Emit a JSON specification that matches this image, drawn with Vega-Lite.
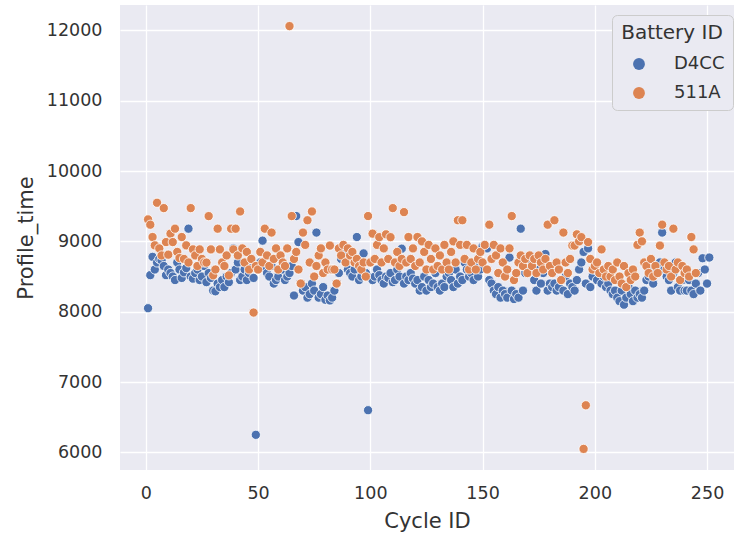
{
"$schema": "https://vega.github.io/schema/vega-lite/v6.json",
"autosize": {"type": "none"},
"width": 614, "height": 465,
"padding": {"left": 120, "top": 5, "right": 0, "bottom": 70},
"background": "white",
"config": {
  "view": {"fill": "#eaeaf2", "stroke": null},
  "font": "DejaVu Sans",
  "axis": {"grid": true, "gridColor": "white", "gridWidth": 1.3, "domain": false, "ticks": false, "labelColor": "#333333", "titleColor": "#333333", "labelFontSize": 17.5, "titleFontSize": 21, "titleFontWeight": "normal", "labelFont": "DejaVu Sans", "titleFont": "DejaVu Sans", "format": "d"}
},
"datasets": {
"pts": [
{"cycle":1,"battery":"D4CC","time":8050},{"cycle":2,"battery":"D4CC","time":8520},{"cycle":3,"battery":"D4CC","time":8780},{"cycle":4,"battery":"D4CC","time":8600},{"cycle":5,"battery":"D4CC","time":8700},{"cycle":6,"battery":"D4CC","time":8750},{"cycle":7,"battery":"D4CC","time":8730},{"cycle":8,"battery":"D4CC","time":8650},{"cycle":9,"battery":"D4CC","time":8520},{"cycle":10,"battery":"D4CC","time":8600},
{"cycle":11,"battery":"D4CC","time":8550},{"cycle":12,"battery":"D4CC","time":8500},{"cycle":13,"battery":"D4CC","time":8450},{"cycle":14,"battery":"D4CC","time":8700},{"cycle":15,"battery":"D4CC","time":8600},{"cycle":16,"battery":"D4CC","time":8480},{"cycle":17,"battery":"D4CC","time":8560},{"cycle":18,"battery":"D4CC","time":8620},{"cycle":19,"battery":"D4CC","time":9180},{"cycle":20,"battery":"D4CC","time":8500},
{"cycle":21,"battery":"D4CC","time":8470},{"cycle":22,"battery":"D4CC","time":8550},{"cycle":23,"battery":"D4CC","time":8600},{"cycle":24,"battery":"D4CC","time":8450},{"cycle":25,"battery":"D4CC","time":8500},{"cycle":26,"battery":"D4CC","time":8650},{"cycle":27,"battery":"D4CC","time":8420},{"cycle":28,"battery":"D4CC","time":8550},{"cycle":29,"battery":"D4CC","time":8480},{"cycle":30,"battery":"D4CC","time":8300},
{"cycle":31,"battery":"D4CC","time":8290},{"cycle":32,"battery":"D4CC","time":8400},{"cycle":33,"battery":"D4CC","time":8350},{"cycle":34,"battery":"D4CC","time":8450},{"cycle":35,"battery":"D4CC","time":8350},{"cycle":36,"battery":"D4CC","time":8500},{"cycle":37,"battery":"D4CC","time":8420},{"cycle":38,"battery":"D4CC","time":8550},{"cycle":39,"battery":"D4CC","time":8900},{"cycle":40,"battery":"D4CC","time":8600},
{"cycle":41,"battery":"D4CC","time":8700},{"cycle":42,"battery":"D4CC","time":8450},{"cycle":43,"battery":"D4CC","time":8500},{"cycle":44,"battery":"D4CC","time":8600},{"cycle":45,"battery":"D4CC","time":8450},{"cycle":46,"battery":"D4CC","time":8550},{"cycle":47,"battery":"D4CC","time":8620},{"cycle":48,"battery":"D4CC","time":8480},{"cycle":49,"battery":"D4CC","time":6250},{"cycle":50,"battery":"D4CC","time":8600},
{"cycle":51,"battery":"D4CC","time":8700},{"cycle":52,"battery":"D4CC","time":9010},{"cycle":53,"battery":"D4CC","time":8620},{"cycle":54,"battery":"D4CC","time":8550},{"cycle":55,"battery":"D4CC","time":8500},{"cycle":56,"battery":"D4CC","time":8650},{"cycle":57,"battery":"D4CC","time":8400},{"cycle":58,"battery":"D4CC","time":8450},{"cycle":59,"battery":"D4CC","time":8500},{"cycle":60,"battery":"D4CC","time":8780},
{"cycle":61,"battery":"D4CC","time":8600},{"cycle":62,"battery":"D4CC","time":8450},{"cycle":63,"battery":"D4CC","time":8500},{"cycle":64,"battery":"D4CC","time":8550},{"cycle":65,"battery":"D4CC","time":8650},{"cycle":66,"battery":"D4CC","time":8230},{"cycle":67,"battery":"D4CC","time":9360},{"cycle":68,"battery":"D4CC","time":8990},{"cycle":69,"battery":"D4CC","time":8400},{"cycle":70,"battery":"D4CC","time":8300},
{"cycle":71,"battery":"D4CC","time":8350},{"cycle":72,"battery":"D4CC","time":8200},{"cycle":73,"battery":"D4CC","time":8250},{"cycle":74,"battery":"D4CC","time":8400},{"cycle":75,"battery":"D4CC","time":8300},{"cycle":76,"battery":"D4CC","time":9125},{"cycle":77,"battery":"D4CC","time":8200},{"cycle":78,"battery":"D4CC","time":8250},{"cycle":79,"battery":"D4CC","time":8350},{"cycle":80,"battery":"D4CC","time":8170},
{"cycle":81,"battery":"D4CC","time":8230},{"cycle":82,"battery":"D4CC","time":8160},{"cycle":83,"battery":"D4CC","time":8200},{"cycle":84,"battery":"D4CC","time":8300},{"cycle":85,"battery":"D4CC","time":8400},{"cycle":86,"battery":"D4CC","time":8550},{"cycle":87,"battery":"D4CC","time":8750},{"cycle":88,"battery":"D4CC","time":8850},{"cycle":89,"battery":"D4CC","time":8700},{"cycle":90,"battery":"D4CC","time":8600},
{"cycle":91,"battery":"D4CC","time":8550},{"cycle":92,"battery":"D4CC","time":8500},{"cycle":93,"battery":"D4CC","time":8600},{"cycle":94,"battery":"D4CC","time":9062},{"cycle":95,"battery":"D4CC","time":8450},{"cycle":96,"battery":"D4CC","time":8500},{"cycle":97,"battery":"D4CC","time":8829},{"cycle":98,"battery":"D4CC","time":8550},{"cycle":99,"battery":"D4CC","time":6600},{"cycle":100,"battery":"D4CC","time":8480},
{"cycle":101,"battery":"D4CC","time":8450},{"cycle":102,"battery":"D4CC","time":8500},{"cycle":103,"battery":"D4CC","time":8600},{"cycle":104,"battery":"D4CC","time":8520},{"cycle":105,"battery":"D4CC","time":8450},{"cycle":106,"battery":"D4CC","time":8400},{"cycle":107,"battery":"D4CC","time":8500},{"cycle":108,"battery":"D4CC","time":8480},{"cycle":109,"battery":"D4CC","time":8550},{"cycle":110,"battery":"D4CC","time":8420},
{"cycle":111,"battery":"D4CC","time":8450},{"cycle":112,"battery":"D4CC","time":8600},{"cycle":113,"battery":"D4CC","time":8500},{"cycle":114,"battery":"D4CC","time":8896},{"cycle":115,"battery":"D4CC","time":8400},{"cycle":116,"battery":"D4CC","time":8500},{"cycle":117,"battery":"D4CC","time":8450},{"cycle":118,"battery":"D4CC","time":8550},{"cycle":119,"battery":"D4CC","time":8470},{"cycle":120,"battery":"D4CC","time":8400},
{"cycle":121,"battery":"D4CC","time":8450},{"cycle":122,"battery":"D4CC","time":8300},{"cycle":123,"battery":"D4CC","time":8350},{"cycle":124,"battery":"D4CC","time":8500},{"cycle":125,"battery":"D4CC","time":8300},{"cycle":126,"battery":"D4CC","time":8450},{"cycle":127,"battery":"D4CC","time":8350},{"cycle":128,"battery":"D4CC","time":8400},{"cycle":129,"battery":"D4CC","time":8550},{"cycle":130,"battery":"D4CC","time":8350},
{"cycle":131,"battery":"D4CC","time":8300},{"cycle":132,"battery":"D4CC","time":8400},{"cycle":133,"battery":"D4CC","time":8350},{"cycle":134,"battery":"D4CC","time":8500},{"cycle":135,"battery":"D4CC","time":8550},{"cycle":136,"battery":"D4CC","time":8450},{"cycle":137,"battery":"D4CC","time":8350},{"cycle":138,"battery":"D4CC","time":8600},{"cycle":139,"battery":"D4CC","time":8400},{"cycle":140,"battery":"D4CC","time":8500},
{"cycle":141,"battery":"D4CC","time":8450},{"cycle":142,"battery":"D4CC","time":8700},{"cycle":143,"battery":"D4CC","time":8600},{"cycle":144,"battery":"D4CC","time":8500},{"cycle":145,"battery":"D4CC","time":8550},{"cycle":146,"battery":"D4CC","time":8450},{"cycle":147,"battery":"D4CC","time":8650},{"cycle":148,"battery":"D4CC","time":8500},{"cycle":149,"battery":"D4CC","time":8600},{"cycle":150,"battery":"D4CC","time":8930},
{"cycle":151,"battery":"D4CC","time":8950},{"cycle":152,"battery":"D4CC","time":8900},{"cycle":153,"battery":"D4CC","time":8450},{"cycle":154,"battery":"D4CC","time":8400},{"cycle":155,"battery":"D4CC","time":8300},{"cycle":156,"battery":"D4CC","time":8250},{"cycle":157,"battery":"D4CC","time":8350},{"cycle":158,"battery":"D4CC","time":8200},{"cycle":159,"battery":"D4CC","time":8300},{"cycle":160,"battery":"D4CC","time":8250},
{"cycle":161,"battery":"D4CC","time":8200},{"cycle":162,"battery":"D4CC","time":8770},{"cycle":163,"battery":"D4CC","time":8300},{"cycle":164,"battery":"D4CC","time":8180},{"cycle":165,"battery":"D4CC","time":8250},{"cycle":166,"battery":"D4CC","time":8200},{"cycle":167,"battery":"D4CC","time":9180},{"cycle":168,"battery":"D4CC","time":8300},{"cycle":169,"battery":"D4CC","time":8550},{"cycle":170,"battery":"D4CC","time":8600},
{"cycle":171,"battery":"D4CC","time":8800},{"cycle":172,"battery":"D4CC","time":8700},{"cycle":173,"battery":"D4CC","time":8450},{"cycle":174,"battery":"D4CC","time":8300},{"cycle":175,"battery":"D4CC","time":8600},{"cycle":176,"battery":"D4CC","time":8400},{"cycle":177,"battery":"D4CC","time":8550},{"cycle":178,"battery":"D4CC","time":8820},{"cycle":179,"battery":"D4CC","time":8300},{"cycle":180,"battery":"D4CC","time":8400},
{"cycle":181,"battery":"D4CC","time":8350},{"cycle":182,"battery":"D4CC","time":8400},{"cycle":183,"battery":"D4CC","time":8300},{"cycle":184,"battery":"D4CC","time":8350},{"cycle":185,"battery":"D4CC","time":8450},{"cycle":186,"battery":"D4CC","time":8300},{"cycle":187,"battery":"D4CC","time":8500},{"cycle":188,"battery":"D4CC","time":8250},{"cycle":189,"battery":"D4CC","time":8400},{"cycle":190,"battery":"D4CC","time":8350},
{"cycle":191,"battery":"D4CC","time":8300},{"cycle":192,"battery":"D4CC","time":8450},{"cycle":193,"battery":"D4CC","time":8600},{"cycle":194,"battery":"D4CC","time":8700},{"cycle":195,"battery":"D4CC","time":8850},{"cycle":196,"battery":"D4CC","time":8400},{"cycle":197,"battery":"D4CC","time":8900},{"cycle":198,"battery":"D4CC","time":8350},{"cycle":199,"battery":"D4CC","time":8500},{"cycle":200,"battery":"D4CC","time":8600},
{"cycle":201,"battery":"D4CC","time":8450},{"cycle":202,"battery":"D4CC","time":8550},{"cycle":203,"battery":"D4CC","time":8400},{"cycle":204,"battery":"D4CC","time":8500},{"cycle":205,"battery":"D4CC","time":8350},{"cycle":206,"battery":"D4CC","time":8400},{"cycle":207,"battery":"D4CC","time":8300},{"cycle":208,"battery":"D4CC","time":8250},{"cycle":209,"battery":"D4CC","time":8300},{"cycle":210,"battery":"D4CC","time":8200},
{"cycle":211,"battery":"D4CC","time":8150},{"cycle":212,"battery":"D4CC","time":8300},{"cycle":213,"battery":"D4CC","time":8100},{"cycle":214,"battery":"D4CC","time":8200},{"cycle":215,"battery":"D4CC","time":8350},{"cycle":216,"battery":"D4CC","time":8250},{"cycle":217,"battery":"D4CC","time":8150},{"cycle":218,"battery":"D4CC","time":8300},{"cycle":219,"battery":"D4CC","time":8200},{"cycle":220,"battery":"D4CC","time":8250},
{"cycle":221,"battery":"D4CC","time":8200},{"cycle":222,"battery":"D4CC","time":8300},{"cycle":223,"battery":"D4CC","time":8450},{"cycle":224,"battery":"D4CC","time":8500},{"cycle":225,"battery":"D4CC","time":8600},{"cycle":226,"battery":"D4CC","time":8400},{"cycle":227,"battery":"D4CC","time":8550},{"cycle":228,"battery":"D4CC","time":8650},{"cycle":229,"battery":"D4CC","time":8700},{"cycle":230,"battery":"D4CC","time":9125},
{"cycle":231,"battery":"D4CC","time":8600},{"cycle":232,"battery":"D4CC","time":8500},{"cycle":233,"battery":"D4CC","time":8450},{"cycle":234,"battery":"D4CC","time":8300},{"cycle":235,"battery":"D4CC","time":8550},{"cycle":236,"battery":"D4CC","time":8700},{"cycle":237,"battery":"D4CC","time":8350},{"cycle":238,"battery":"D4CC","time":8300},{"cycle":239,"battery":"D4CC","time":8450},{"cycle":240,"battery":"D4CC","time":8300},
{"cycle":241,"battery":"D4CC","time":8300},{"cycle":242,"battery":"D4CC","time":8450},{"cycle":243,"battery":"D4CC","time":8300},{"cycle":244,"battery":"D4CC","time":8250},{"cycle":245,"battery":"D4CC","time":8400},{"cycle":246,"battery":"D4CC","time":8550},{"cycle":247,"battery":"D4CC","time":8300},{"cycle":248,"battery":"D4CC","time":8760},{"cycle":249,"battery":"D4CC","time":8600},{"cycle":250,"battery":"D4CC","time":8400},{"cycle":251,"battery":"D4CC","time":8770},
{"cycle":1,"battery":"511A","time":9312},{"cycle":2,"battery":"511A","time":9237},{"cycle":3,"battery":"511A","time":9062},{"cycle":4,"battery":"511A","time":8943},{"cycle":5,"battery":"511A","time":9549},{"cycle":6,"battery":"511A","time":8900},{"cycle":7,"battery":"511A","time":8800},{"cycle":8,"battery":"511A","time":9473},{"cycle":9,"battery":"511A","time":8990},{"cycle":10,"battery":"511A","time":8811},
{"cycle":11,"battery":"511A","time":9110},{"cycle":12,"battery":"511A","time":8990},{"cycle":13,"battery":"511A","time":9180},{"cycle":14,"battery":"511A","time":8850},{"cycle":15,"battery":"511A","time":8763},{"cycle":16,"battery":"511A","time":9062},{"cycle":17,"battery":"511A","time":8750},{"cycle":18,"battery":"511A","time":8943},{"cycle":19,"battery":"511A","time":8700},{"cycle":20,"battery":"511A","time":9473},
{"cycle":21,"battery":"511A","time":8886},{"cycle":22,"battery":"511A","time":8800},{"cycle":23,"battery":"511A","time":8650},{"cycle":24,"battery":"511A","time":8886},{"cycle":25,"battery":"511A","time":8750},{"cycle":26,"battery":"511A","time":8700},{"cycle":27,"battery":"511A","time":8698},{"cycle":28,"battery":"511A","time":9359},{"cycle":29,"battery":"511A","time":8886},{"cycle":30,"battery":"511A","time":8517},
{"cycle":31,"battery":"511A","time":8600},{"cycle":32,"battery":"511A","time":9180},{"cycle":33,"battery":"511A","time":8886},{"cycle":34,"battery":"511A","time":8700},{"cycle":35,"battery":"511A","time":8650},{"cycle":36,"battery":"511A","time":8800},{"cycle":37,"battery":"511A","time":8517},{"cycle":38,"battery":"511A","time":9180},{"cycle":39,"battery":"511A","time":8886},{"cycle":40,"battery":"511A","time":9180},
{"cycle":41,"battery":"511A","time":8800},{"cycle":42,"battery":"511A","time":9425},{"cycle":43,"battery":"511A","time":8900},{"cycle":44,"battery":"511A","time":8700},{"cycle":45,"battery":"511A","time":8850},{"cycle":46,"battery":"511A","time":8600},{"cycle":47,"battery":"511A","time":8750},{"cycle":48,"battery":"511A","time":7988},{"cycle":49,"battery":"511A","time":8650},{"cycle":50,"battery":"511A","time":8600},
{"cycle":51,"battery":"511A","time":8850},{"cycle":52,"battery":"511A","time":8700},{"cycle":53,"battery":"511A","time":9180},{"cycle":54,"battery":"511A","time":8800},{"cycle":55,"battery":"511A","time":8650},{"cycle":56,"battery":"511A","time":9125},{"cycle":57,"battery":"511A","time":8750},{"cycle":58,"battery":"511A","time":8900},{"cycle":59,"battery":"511A","time":8600},{"cycle":60,"battery":"511A","time":8800},
{"cycle":61,"battery":"511A","time":8700},{"cycle":62,"battery":"511A","time":8650},{"cycle":63,"battery":"511A","time":8900},{"cycle":64,"battery":"511A","time":12060},{"cycle":65,"battery":"511A","time":9360},{"cycle":66,"battery":"511A","time":8750},{"cycle":67,"battery":"511A","time":8850},{"cycle":68,"battery":"511A","time":8600},{"cycle":69,"battery":"511A","time":8400},{"cycle":70,"battery":"511A","time":9125},
{"cycle":71,"battery":"511A","time":8950},{"cycle":72,"battery":"511A","time":9300},{"cycle":73,"battery":"511A","time":8700},{"cycle":74,"battery":"511A","time":9425},{"cycle":75,"battery":"511A","time":8500},{"cycle":76,"battery":"511A","time":8650},{"cycle":77,"battery":"511A","time":8800},{"cycle":78,"battery":"511A","time":8900},{"cycle":79,"battery":"511A","time":8550},{"cycle":80,"battery":"511A","time":8700},
{"cycle":81,"battery":"511A","time":8600},{"cycle":82,"battery":"511A","time":8940},{"cycle":83,"battery":"511A","time":8600},{"cycle":84,"battery":"511A","time":8600},{"cycle":85,"battery":"511A","time":8400},{"cycle":86,"battery":"511A","time":8900},{"cycle":87,"battery":"511A","time":8800},{"cycle":88,"battery":"511A","time":8950},{"cycle":89,"battery":"511A","time":8700},{"cycle":90,"battery":"511A","time":8900},
{"cycle":91,"battery":"511A","time":8800},{"cycle":92,"battery":"511A","time":8850},{"cycle":93,"battery":"511A","time":8700},{"cycle":94,"battery":"511A","time":8750},{"cycle":95,"battery":"511A","time":8650},{"cycle":96,"battery":"511A","time":8600},{"cycle":97,"battery":"511A","time":8700},{"cycle":98,"battery":"511A","time":8500},{"cycle":99,"battery":"511A","time":9360},{"cycle":100,"battery":"511A","time":8700},
{"cycle":101,"battery":"511A","time":9110},{"cycle":102,"battery":"511A","time":8750},{"cycle":103,"battery":"511A","time":8950},{"cycle":104,"battery":"511A","time":9060},{"cycle":105,"battery":"511A","time":8700},{"cycle":106,"battery":"511A","time":8900},{"cycle":107,"battery":"511A","time":9100},{"cycle":108,"battery":"511A","time":8750},{"cycle":109,"battery":"511A","time":9060},{"cycle":110,"battery":"511A","time":9473},
{"cycle":111,"battery":"511A","time":8700},{"cycle":112,"battery":"511A","time":8850},{"cycle":113,"battery":"511A","time":8650},{"cycle":114,"battery":"511A","time":8750},{"cycle":115,"battery":"511A","time":9416},{"cycle":116,"battery":"511A","time":8700},{"cycle":117,"battery":"511A","time":9062},{"cycle":118,"battery":"511A","time":8750},{"cycle":119,"battery":"511A","time":8900},{"cycle":120,"battery":"511A","time":8650},
{"cycle":121,"battery":"511A","time":9062},{"cycle":122,"battery":"511A","time":8700},{"cycle":123,"battery":"511A","time":9000},{"cycle":124,"battery":"511A","time":8850},{"cycle":125,"battery":"511A","time":8600},{"cycle":126,"battery":"511A","time":8950},{"cycle":127,"battery":"511A","time":8750},{"cycle":128,"battery":"511A","time":8600},{"cycle":129,"battery":"511A","time":8900},{"cycle":130,"battery":"511A","time":8650},
{"cycle":131,"battery":"511A","time":8800},{"cycle":132,"battery":"511A","time":8600},{"cycle":133,"battery":"511A","time":8950},{"cycle":134,"battery":"511A","time":8700},{"cycle":135,"battery":"511A","time":8600},{"cycle":136,"battery":"511A","time":8850},{"cycle":137,"battery":"511A","time":9000},{"cycle":138,"battery":"511A","time":8700},{"cycle":139,"battery":"511A","time":9300},{"cycle":140,"battery":"511A","time":8950},
{"cycle":141,"battery":"511A","time":9300},{"cycle":142,"battery":"511A","time":8750},{"cycle":143,"battery":"511A","time":8950},{"cycle":144,"battery":"511A","time":8600},{"cycle":145,"battery":"511A","time":8700},{"cycle":146,"battery":"511A","time":8900},{"cycle":147,"battery":"511A","time":8600},{"cycle":148,"battery":"511A","time":8750},{"cycle":149,"battery":"511A","time":8850},{"cycle":150,"battery":"511A","time":8700},
{"cycle":151,"battery":"511A","time":8950},{"cycle":152,"battery":"511A","time":8600},{"cycle":153,"battery":"511A","time":9237},{"cycle":154,"battery":"511A","time":8750},{"cycle":155,"battery":"511A","time":8950},{"cycle":156,"battery":"511A","time":8800},{"cycle":157,"battery":"511A","time":8550},{"cycle":158,"battery":"511A","time":8900},{"cycle":159,"battery":"511A","time":8700},{"cycle":160,"battery":"511A","time":8500},
{"cycle":161,"battery":"511A","time":8600},{"cycle":162,"battery":"511A","time":8900},{"cycle":163,"battery":"511A","time":9360},{"cycle":164,"battery":"511A","time":8450},{"cycle":165,"battery":"511A","time":8550},{"cycle":166,"battery":"511A","time":8700},{"cycle":167,"battery":"511A","time":8800},{"cycle":168,"battery":"511A","time":8650},{"cycle":169,"battery":"511A","time":8750},{"cycle":170,"battery":"511A","time":8550},
{"cycle":171,"battery":"511A","time":8800},{"cycle":172,"battery":"511A","time":8650},{"cycle":173,"battery":"511A","time":8750},{"cycle":174,"battery":"511A","time":8550},{"cycle":175,"battery":"511A","time":8800},{"cycle":176,"battery":"511A","time":8700},{"cycle":177,"battery":"511A","time":8600},{"cycle":178,"battery":"511A","time":8750},{"cycle":179,"battery":"511A","time":9237},{"cycle":180,"battery":"511A","time":8650},
{"cycle":181,"battery":"511A","time":8550},{"cycle":182,"battery":"511A","time":9300},{"cycle":183,"battery":"511A","time":8700},{"cycle":184,"battery":"511A","time":8600},{"cycle":185,"battery":"511A","time":8450},{"cycle":186,"battery":"511A","time":9125},{"cycle":187,"battery":"511A","time":8700},{"cycle":188,"battery":"511A","time":8550},{"cycle":189,"battery":"511A","time":8750},{"cycle":190,"battery":"511A","time":8940},
{"cycle":191,"battery":"511A","time":8940},{"cycle":192,"battery":"511A","time":9100},{"cycle":193,"battery":"511A","time":9000},{"cycle":194,"battery":"511A","time":9060},{"cycle":195,"battery":"511A","time":6050},{"cycle":196,"battery":"511A","time":6670},{"cycle":197,"battery":"511A","time":8990},{"cycle":198,"battery":"511A","time":8750},{"cycle":199,"battery":"511A","time":8600},{"cycle":200,"battery":"511A","time":8650},
{"cycle":201,"battery":"511A","time":8700},{"cycle":202,"battery":"511A","time":8550},{"cycle":203,"battery":"511A","time":8886},{"cycle":204,"battery":"511A","time":8600},{"cycle":205,"battery":"511A","time":8500},{"cycle":206,"battery":"511A","time":8650},{"cycle":207,"battery":"511A","time":8500},{"cycle":208,"battery":"511A","time":8600},{"cycle":209,"battery":"511A","time":8450},{"cycle":210,"battery":"511A","time":8700},
{"cycle":211,"battery":"511A","time":8500},{"cycle":212,"battery":"511A","time":8400},{"cycle":213,"battery":"511A","time":8650},{"cycle":214,"battery":"511A","time":8350},{"cycle":215,"battery":"511A","time":8550},{"cycle":216,"battery":"511A","time":8450},{"cycle":217,"battery":"511A","time":8600},{"cycle":218,"battery":"511A","time":8500},{"cycle":219,"battery":"511A","time":8950},{"cycle":220,"battery":"511A","time":9125},
{"cycle":221,"battery":"511A","time":9000},{"cycle":222,"battery":"511A","time":8700},{"cycle":223,"battery":"511A","time":8650},{"cycle":224,"battery":"511A","time":8550},{"cycle":225,"battery":"511A","time":8750},{"cycle":226,"battery":"511A","time":8500},{"cycle":227,"battery":"511A","time":8650},{"cycle":228,"battery":"511A","time":8550},{"cycle":229,"battery":"511A","time":8940},{"cycle":230,"battery":"511A","time":9237},
{"cycle":231,"battery":"511A","time":8700},{"cycle":232,"battery":"511A","time":8600},{"cycle":233,"battery":"511A","time":8650},{"cycle":234,"battery":"511A","time":8500},{"cycle":235,"battery":"511A","time":9180},{"cycle":236,"battery":"511A","time":8600},{"cycle":237,"battery":"511A","time":8700},{"cycle":238,"battery":"511A","time":8450},{"cycle":239,"battery":"511A","time":8650},{"cycle":240,"battery":"511A","time":8550},
{"cycle":241,"battery":"511A","time":8600},{"cycle":242,"battery":"511A","time":8500},{"cycle":243,"battery":"511A","time":9062},{"cycle":244,"battery":"511A","time":8886},{"cycle":245,"battery":"511A","time":8550}
]
},
"data": {"name": "pts"},
"mark": {"type": "point", "filled": true, "opacity": 1, "size": 85, "stroke": "white", "strokeWidth": 0.8},
"encoding": {
  "x": {"field": "cycle", "type": "quantitative", "title": "Cycle ID", "scale": {"domain": [-11.5, 262], "nice": false, "zero": false}, "axis": {"values": [0, 50, 100, 150, 200, 250], "labelPadding": 14, "titlePadding": 9}},
  "y": {"field": "time", "type": "quantitative", "title": "Profile_time", "scale": {"domain": [5750, 12360], "nice": false, "zero": false}, "axis": {"values": [6000, 7000, 8000, 9000, 10000, 11000, 12000], "labelPadding": 18, "titlePadding": 10}},
  "color": {"field": "battery", "type": "nominal", "title": "Battery ID", "sort": ["D4CC", "511A"], "scale": {"domain": ["D4CC", "511A"], "range": ["#4c72b0", "#dd8452"]},
    "legend": {"orient": "none", "legendX": 492, "legendY": 10, "fillColor": "#eaeaf2", "strokeColor": "#cccccc", "cornerRadius": 5, "padding": 8, "titleFontSize": 20, "titleFontWeight": "normal", "titleColor": "#333333", "labelFontSize": 18, "labelColor": "#333333", "symbolType": "circle", "symbolSize": 140, "symbolStrokeWidth": 0, "symbolOffset": 10, "rowPadding": 11, "labelOffset": 26, "titleAlign": "center", "titleAnchor": "middle", "titlePadding": 12}}
}
}
